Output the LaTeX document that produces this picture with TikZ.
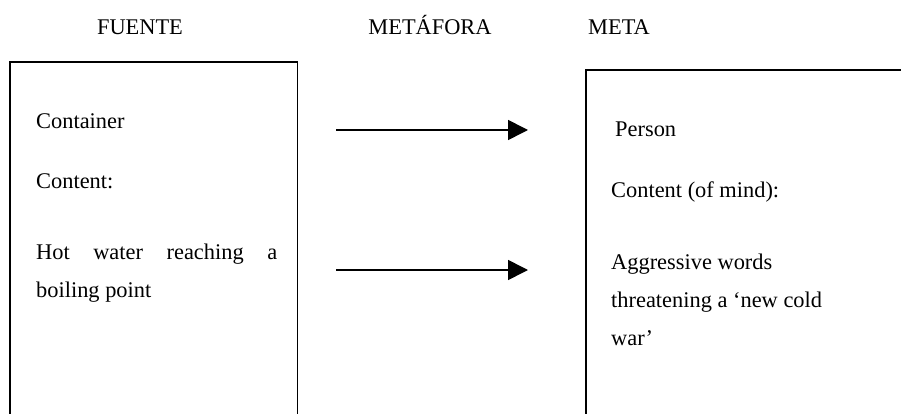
\documentclass[tikz,border=0pt]{standalone}
\usepackage{fontspec}
\setmainfont{Liberation Serif}
\usetikzlibrary{arrows.meta}
\begin{document}
\begin{tikzpicture}[x=1pt,y=-1pt,
  lbl/.style={anchor=base west,inner sep=0pt,font=\fontsize{22.4}{27}\selectfont},
  hdr/.style={anchor=base,inner sep=0pt,font=\fontsize{22.4}{27}\selectfont},
  frame/.style={draw=black,line width=1.5pt},
  maparrow/.style={line width=1.6pt,-{Triangle[length=20pt,width=20pt]}}]
\useasboundingbox (0,0) rectangle (901,414);
\clip (0,0) rectangle (901,414);
% column headings
\node[hdr] (hsrc) at (140,35) {FUENTE};
\node[hdr] (hmap) at (430,35) {METÁFORA};
\node[hdr] (htgt) at (619,35) {META};
% open-bottom frames of the two domains
\node[minimum width=287pt,minimum height=360pt,anchor=north west,inner sep=0pt] (src) at (10,62) {};
\node[minimum width=320pt,minimum height=350pt,anchor=north west,inner sep=0pt] (tgt) at (586,70) {};
\draw[frame] (src.south west) -- (src.north west) -- (src.north east) -- (src.south east);
\draw[frame] (tgt.south west) -- (tgt.north west) -- (tgt.north east) -- (tgt.south east);
% source domain
\node[lbl] (s1) at (36,129) {Container};
\node[lbl] (s2) at (36,189) {Content:};
\node[lbl] (s3) at (36,259) {\hbox to 241pt{Hot\hfill water\hfill reaching\hfill a}};
\node[lbl] (s4) at (36,297) {boiling point};
% target domain
\node[lbl] (t1) at (615,137) {Person};
\node[lbl] (t2) at (611,197) {Content (of mind):};
\node[lbl] (t3) at (611,269) {Aggressive words};
\node[lbl] (t4) at (611,307) {threatening a ‘new cold};
\node[lbl] (t5) at (611,345) {war’};
% mappings
\coordinate (a1) at (336,130);
\coordinate (b1) at (528,130);
\coordinate (a2) at (336,270);
\coordinate (b2) at (528,270);
\draw[maparrow] (a1) -- (b1);
\draw[maparrow] (a2) -- (b2);
\end{tikzpicture}
\end{document}
